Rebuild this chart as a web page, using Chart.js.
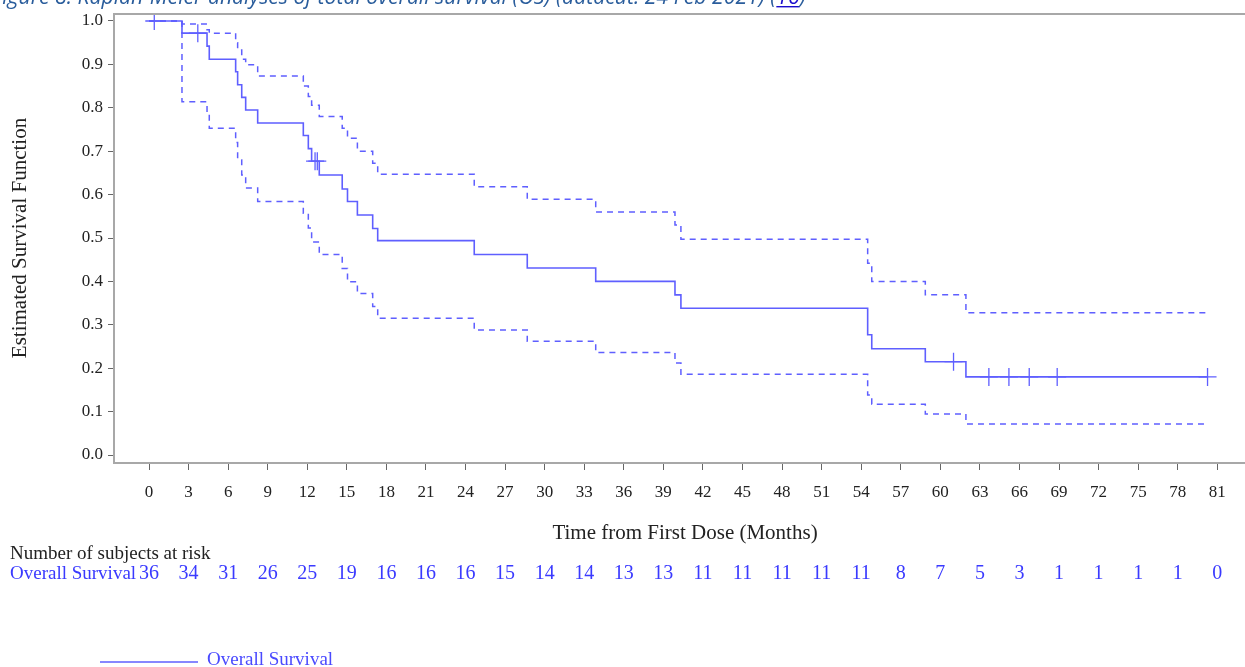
<!DOCTYPE html>
<html>
<head>
<meta charset="utf-8">
<script src="https://cdn.jsdelivr.net/npm/chart.js@4.4.1/dist/chart.umd.min.js"></script>
<style>
  html, body { margin: 0; padding: 0; background: #fff; }
  #wrap { position: relative; width: 1245px; height: 667px; }
</style>
</head>
<body>
<div id="wrap"><canvas id="c" width="1245" height="667"></canvas></div>
<script>
// ---- data ----
const monthTicks = [0,3,6,9,12,15,18,21,24,27,30,33,36,39,42,45,48,51,54,57,60,63,66,69,72,75,78,81];
const atRisk = [36,34,31,26,25,19,16,16,16,15,14,14,13,13,11,11,11,11,11,8,7,5,3,1,1,1,1,0];
const survTicks = [0,0.1,0.2,0.3,0.4,0.5,0.6,0.7,0.8,0.9,1.0];

const stepTimes = [0,2.5,4.4,4.57,6.57,6.72,7.03,7.33,8.24,11.7,12.08,12.33,12.91,14.65,15.05,15.8,16.96,17.34,24.66,28.68,33.87,39.88,40.33,54.49,54.8,58.86,61.94,80.26];
const survival  = [1.0,0.972,0.942,0.912,0.883,0.853,0.824,0.795,0.765,0.736,0.706,0.677,0.645,0.613,0.584,0.553,0.522,0.494,0.462,0.431,0.400,0.369,0.338,0.277,0.245,0.215,0.180,0.180];
const upperCI   = [1.0,0.993,0.980,0.972,0.950,0.933,0.912,0.899,0.873,0.850,0.826,0.806,0.780,0.753,0.730,0.700,0.672,0.647,0.618,0.589,0.560,0.530,0.497,0.442,0.400,0.369,0.328,0.328];
const lowerCI   = [1.0,0.814,0.785,0.753,0.720,0.680,0.645,0.615,0.584,0.557,0.523,0.491,0.462,0.430,0.399,0.372,0.342,0.315,0.288,0.262,0.236,0.212,0.186,0.138,0.117,0.0945,0.0714,0.0714];

const censorTimes  = [0.4,3.7,12.59,12.76,61.0,63.68,65.2,66.74,68.86,80.26];
const censorValues = [1.0,0.972,0.677,0.677,0.215,0.180,0.180,0.180,0.180,0.180];

const titleText = "Figure 8: Kaplan-Meier analyses of total overall survival (OS) (datacut: 24 Feb 2021) (";
const titleRef = "16";
const seriesName = "Overall Survival";

// ---- chart ----
const BLUE = '#5f5fff';
const SERIF = '"Liberation Serif", "DejaVu Serif", serif';
const pts = (xs, ys) => xs.map((x, i) => ({x: x, y: ys[i]}));

const overlay = {
  id: 'overlay',
  afterDraw(chart) {
    const ctx = chart.ctx;
    const ca = chart.chartArea;
    const xs = chart.scales.x;
    ctx.save();
    // top frame line
    ctx.strokeStyle = '#a8a8a8';
    ctx.lineWidth = 2;
    ctx.beginPath();
    ctx.moveTo(ca.left, ca.top);
    ctx.lineTo(1245, ca.top);
    ctx.stroke();

    // clipped figure caption at top
    ctx.textBaseline = 'alphabetic';
    ctx.textAlign = 'left';
    ctx.font = 'italic 20px "Open Sans", sans-serif';
    const full = ctx.measureText(titleText + titleRef + ')').width;
    const size = 20 * 814 / full;
    ctx.font = 'italic ' + size.toFixed(2) + 'px "Open Sans", sans-serif';
    const wRef = ctx.measureText(titleRef).width;
    const wMain = ctx.measureText(titleText).width;
    const startX = -8;
    const base = 4;
    ctx.fillStyle = '#2a5d9c';
    ctx.fillText(titleText, startX, base);
    ctx.fillStyle = '#1a0dcc';
    ctx.fillText(titleRef, startX + wMain, base);
    ctx.fillRect(startX + wMain, base + 2, wRef, 1.4);
    ctx.fillStyle = '#2a5d9c';
    ctx.fillText(')', startX + wMain + wRef, base);

    // y axis title
    ctx.fillStyle = '#222';
    ctx.font = '21px ' + SERIF;
    ctx.textAlign = 'center';
    ctx.textBaseline = 'middle';
    ctx.save();
    ctx.translate(20, 238);
    ctx.rotate(-Math.PI / 2);
    ctx.fillText('Estimated Survival Function', 0, 0);
    ctx.restore();

    // x axis title
    ctx.font = '21px ' + SERIF;
    ctx.fillText('Time from First Dose (Months)', 685, 533);

    // at-risk table
    ctx.textAlign = 'left';
    ctx.font = '19px ' + SERIF;
    ctx.fillStyle = '#222';
    ctx.fillText('Number of subjects at risk', 10, 554);
    ctx.fillStyle = '#3a3aff';
    ctx.fillText(seriesName, 10, 574);
    ctx.font = '20px ' + SERIF;
    ctx.textAlign = 'center';
    monthTicks.forEach((m, i) => {
      ctx.fillText(String(atRisk[i]), xs.getPixelForValue(m), 574);
    });

    // legend
    ctx.strokeStyle = BLUE;
    ctx.lineWidth = 1.5;
    ctx.beginPath();
    ctx.moveTo(100, 662);
    ctx.lineTo(198, 662);
    ctx.stroke();
    ctx.fillStyle = '#4a4aff';
    ctx.font = '19px ' + SERIF;
    ctx.textAlign = 'left';
    ctx.fillText(seriesName, 207, 660);
    ctx.restore();
  }
};

new Chart(document.getElementById('c'), {
  type: 'scatter',
  data: {
    datasets: [
      { label: 'Upper', data: pts(stepTimes, upperCI), showLine: true, stepped: 'before',
        borderColor: BLUE, borderWidth: 1.5, borderDash: [6, 5], pointRadius: 0, fill: false },
      { label: 'Lower', data: pts(stepTimes, lowerCI), showLine: true, stepped: 'before',
        borderColor: BLUE, borderWidth: 1.5, borderDash: [6, 5], pointRadius: 0, fill: false },
      { label: seriesName, data: pts(stepTimes, survival), showLine: true, stepped: 'before',
        borderColor: BLUE, borderWidth: 1.6, pointRadius: 0, fill: false },
      { label: 'Censored', data: pts(censorTimes, censorValues), showLine: false,
        pointStyle: 'cross', pointRadius: 9, borderColor: BLUE, borderWidth: 1.3, backgroundColor: BLUE }
    ]
  },
  options: {
    responsive: false,
    animation: false,
    events: [],
    layout: { autoPadding: false, padding: { left: 0, top: 14, right: 0, bottom: 159 } },
    plugins: { legend: { display: false }, tooltip: { enabled: false } },
    scales: {
      x: {
        type: 'linear',
        min: -2.654, max: 83.1,
        afterBuildTicks: a => { a.ticks = monthTicks.map(v => ({ value: v })); },
        afterFit: s => { s.height = 45; s.paddingLeft = 0; s.paddingRight = 0; },
        grid: { drawOnChartArea: false, drawTicks: true, tickLength: 7, color: '#666', lineWidth: 1 },
        border: { display: true, color: '#a8a8a8', width: 2 },
        ticks: { color: '#222', font: { family: SERIF, size: 17 }, padding: 12, maxRotation: 0, autoSkip: false }
      },
      y: {
        type: 'linear',
        min: -0.0184, max: 1.0161,
        afterBuildTicks: a => { a.ticks = survTicks.map(v => ({ value: v })); },
        afterFit: s => { s.width = 114; s.paddingTop = 0; s.paddingBottom = 0; },
        grid: { drawOnChartArea: false, drawTicks: true, tickLength: 6, color: '#666', lineWidth: 1 },
        border: { display: true, color: '#a8a8a8', width: 2 },
        ticks: { color: '#222', font: { family: SERIF, size: 17 }, padding: 5,
                 callback: v => Number(v).toFixed(1) }
      }
    }
  },
  plugins: [overlay]
});
</script>
</body>
</html>
